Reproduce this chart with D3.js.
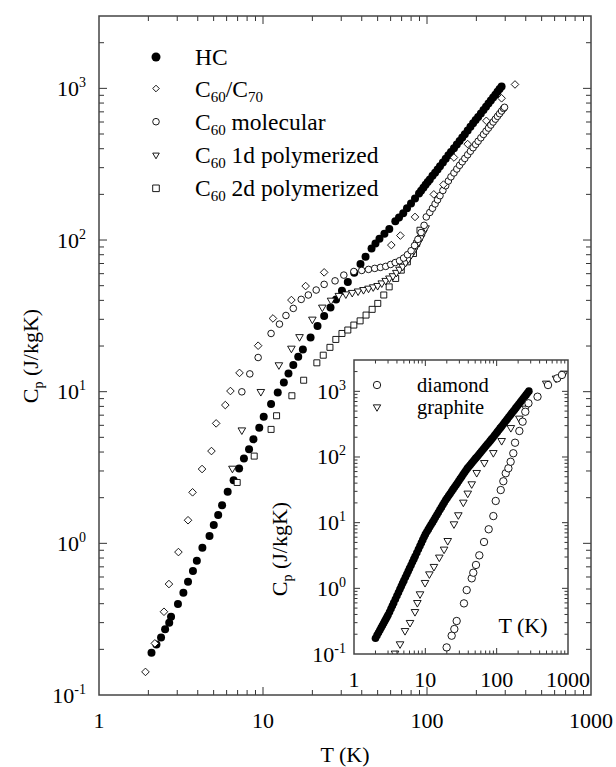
<!DOCTYPE html>
<html>
<head>
<meta charset="utf-8">
<script src="https://cdn.jsdelivr.net/npm/d3@7"></script>
<style>
body { margin: 0; background: #fff; }
svg { display: block; }
text { font-family: "Liberation Serif", "Times New Roman", serif; fill: #000; }
</style>
</head>
<body>
<div id="chart"></div>
<script>
// main panel series: temperature (K) and specific heat (J/kgK)
const hcT = [2.09, 2.24, 2.39, 2.53, 2.68, 2.75, 3.03, 3.27, 3.49, 3.74, 3.95, 4.27, 4.72, 5.01, 5.33, 5.63, 6.09, 6.62, 7.15, 7.65, 8.22, 8.74, 9.49, 10.1, 11.2, 12.3, 13.4, 14.3, 15.3, 16.4, 17.5, 19.5, 21.5, 23.6, 25.8, 27.9, 30.3, 32.9, 36.0, 39.3, 42.2, 45.9, 48.5, 51.3, 55.0, 58.9, 64.1, 67.5, 71.6, 75.5, 79.9, 84.5, 89.4, 92, 95, 98, 101, 104, 108, 112, 116, 120, 125, 130, 135, 140, 146, 152, 158, 164, 170, 177, 184, 191, 198, 205, 213, 221, 229, 237, 245, 253, 261, 269, 277, 285];
const hcC = [0.19, 0.215, 0.239, 0.271, 0.30, 0.328, 0.398, 0.472, 0.558, 0.657, 0.768, 0.935, 1.12, 1.32, 1.54, 1.78, 2.19, 2.61, 3.12, 3.63, 4.17, 4.85, 5.78, 6.83, 8.29, 9.89, 11.5, 13.2, 15.0, 17.0, 19.0, 22.8, 27.1, 31.5, 35.9, 40.6, 46.3, 52.8, 60.8, 69.4, 77.5, 88.0, 95, 102, 110, 118, 133, 141, 150, 162, 174, 188, 203, 211, 221, 231, 241, 251, 265, 278, 292, 307, 325, 343, 362, 380, 403, 427, 450, 474, 499, 528, 558, 588, 618, 648, 684, 720, 757, 794, 832, 871, 909, 949, 989, 1030];

const mixT = [1.92, 2.19, 2.49, 2.67, 3.05, 3.49, 3.72, 4.25, 4.85, 5.18, 5.89, 6.33, 7.19, 9.34, 11.5, 14.9, 18.2, 23.6, 60.6, 68.8, 84.5, 110, 126, 146, 177, 230, 285, 344];
const mixC = [0.142, 0.219, 0.354, 0.539, 0.876, 1.42, 2.17, 3.09, 4.06, 6.18, 8.16, 10.1, 13.3, 20.1, 30.4, 40.2, 49.7, 61.2, 92.6, 107, 142, 200, 232, 350, 429, 611, 860, 1061];

const molT = [7.43, 8.31, 9.34, 11.2, 12.6, 13.8, 15.3, 17.1, 18.9, 21.1, 23.6, 27.5, 31.1, 35.8, 40, 44, 48, 52, 56, 60, 64, 68, 72, 76, 80, 84, 88, 92, 96, 99, 104, 108, 112, 116, 120, 125, 130, 135, 140, 146, 152, 158, 164, 170, 177, 184, 191, 198, 205, 213, 221, 229, 237, 245, 253, 261, 269, 277, 285, 293, 297];
const molC = [9.98, 13.1, 16.8, 24.2, 27.9, 31.8, 35.4, 40.6, 43.4, 46.8, 51.0, 53.8, 58.7, 62, 63, 64, 65, 66, 67, 69, 71, 73, 76, 80, 85, 92, 101, 112, 125, 142, 152, 162, 173, 184, 196, 212, 228, 245, 261, 277, 294, 311, 328, 345, 365, 385, 406, 427, 448, 472, 497, 522, 547, 573, 600, 627, 654, 681, 709, 737, 750];

const p1dT = [6.51, 7.43, 9.7, 12.5, 14.9, 16.7, 20, 23, 26, 29, 32, 35, 38, 41, 44, 47, 50, 53, 56, 59, 62, 65, 68, 71, 74, 77, 80, 83, 86, 89, 92, 95, 98];
const p1dC = [3.12, 5.58, 10.0, 15.0, 19.3, 23.0, 30, 36, 40, 43, 44, 45, 46, 47, 48, 49, 50, 52, 54, 56, 58, 61, 64, 67, 71, 75, 80, 85, 91, 97, 104, 112, 120];

const p2dT = [6.96, 8.84, 11.2, 12.1, 15.0, 17.7, 21.3, 23.3, 25.6, 27.8, 30.3, 32.9, 35.8, 39.1, 42.5, 46.3, 50.1, 54.5, 58.8, 64.4, 69.7, 75.9, 82.7, 86.5, 90.6];
const p2dC = [2.52, 3.76, 5.64, 6.94, 9.4, 11.9, 15.5, 17.4, 19.6, 22.1, 24.2, 25.5, 27.5, 29.3, 32.0, 34.9, 38.2, 43.4, 49.1, 55.8, 63.3, 71.8, 81.5, 95, 116];

// inset series (the HC run is drawn as a dense band there)
const hcInsetT = [2.0, 2.1, 2.2, 2.3, 2.4, 2.5, 2.6, 2.7, 2.8, 2.9, 3.0, 3.15, 3.3, 3.45, 3.6, 3.8, 4.0, 4.2, 4.4, 4.6, 4.8, 5.0, 5.25, 5.5, 5.75, 6.0, 6.3, 6.6, 6.9, 7.2, 7.6, 8.0, 8.4, 8.8, 9.2, 9.6, 10, 10.5, 11, 11.5, 12, 12.6, 13.2, 13.8, 14.5, 15.2, 16, 16.8, 17.6, 18.4, 19.3, 20.2, 21.2, 22.2, 23.3, 24.4, 25.6, 26.8, 28, 29.4, 30.8, 32.3, 33.8, 35.4, 37, 38.8, 40.6, 42.5, 44.5, 46.6, 48.8, 51, 53.5, 56, 58.6, 61.4, 64.3, 67.3, 70.5, 73.8, 77.3, 81, 84.8, 88.8, 93, 97.4, 102, 107, 112, 117, 123, 129, 135, 141, 148, 155, 162, 170, 178, 186, 195, 204, 214, 224, 235, 246, 258, 270, 283];
const hcInsetC = [0.174, 0.192, 0.211, 0.230, 0.251, 0.272, 0.294, 0.317, 0.341, 0.366, 0.392, 0.437, 0.488, 0.542, 0.600, 0.682, 0.771, 0.866, 0.967, 1.075, 1.19, 1.31, 1.47, 1.64, 1.82, 2.01, 2.25, 2.51, 2.78, 3.08, 3.49, 3.93, 4.41, 4.92, 5.46, 6.03, 6.63, 7.25, 7.89, 8.56, 9.26, 10.1, 11.0, 11.95, 13.1, 14.3, 15.7, 17.1, 18.7, 20.2, 22.1, 23.8, 25.7, 27.6, 29.8, 32.1, 34.6, 37.2, 39.9, 43.2, 46.5, 50.1, 53.9, 58.0, 62.2, 67.1, 71.2, 75.6, 80.3, 85.3, 90.6, 96.0, 102, 108, 115, 122, 130, 138, 147, 156, 165, 176, 187, 198, 212, 226, 241, 258, 275, 292, 313, 335, 357, 379, 406, 433, 461, 493, 525, 559, 597, 636, 680, 725, 775, 827, 883, 942, 1006];

const diaT = [19.9, 23.4, 25.5, 27.5, 34.8, 38.0, 44.7, 47.0, 51.3, 57.1, 66.5, 77.3, 89.8, 97, 114, 124, 134, 146, 157, 171, 181, 208, 231, 252, 279, 374, 525, 706, 822];
const diaC = [0.126, 0.19, 0.24, 0.318, 0.59, 0.94, 1.42, 1.73, 2.27, 3.18, 5.08, 7.93, 12.6, 21.4, 31.4, 42.7, 56.5, 67.3, 84.7, 114, 165, 249, 345, 489, 658, 828, 1247, 1578, 1775];

const graT = [3.76, 4.42, 5.19, 6.1, 7.16, 7.73, 8.42, 9.9, 11.4, 13.2, 15.7, 18.3, 20.6, 25.2, 29.0, 34.1, 39.3, 44.7, 52.5, 67.1, 89.8, 117.5, 158, 208, 256, 495, 679, 877];
const graC = [0.1025, 0.142, 0.226, 0.30, 0.44, 0.604, 0.82, 1.22, 1.65, 2.14, 2.97, 3.93, 5.31, 9.54, 13.1, 20.4, 28.0, 38.8, 57.7, 81.8, 116, 177, 279, 388, 551, 1324, 1578, 1880];

const xMajor = [1, 10, 100, 1000];
const yMajor = [0.1, 1, 10, 100, 1000];
const mainLegend = [
  { sym: "fill", base: "HC", sub: "", rest: "" },
  { sym: "diamond", base: "C", sub: "60", rest: "/C", sub2: "70" },
  { sym: "circle", base: "C", sub: "60", rest: " molecular" },
  { sym: "tri", base: "C", sub: "60", rest: " 1d polymerized" },
  { sym: "square", base: "C", sub: "60", rest: " 2d polymerized" }
];
const insetLegend = [
  { sym: "circle", label: "diamond" },
  { sym: "tri", label: "graphite" }
];

const svg = d3.select("#chart").append("svg")
  .attr("width", 616)
  .attr("height", 767);

function zip(a, b) { return a.map((t, i) => [t, b[i]]); }

// draw one marker of a given type at (0,0)
function addMarker(sel, type, r) {
  if (type === "fill") {
    sel.append("circle").attr("r", r).attr("fill", "#000");
  } else if (type === "circle") {
    sel.append("circle").attr("r", r).attr("fill", "#fff").attr("stroke", "#000").attr("stroke-width", 0.9);
  } else {
    let d;
    if (type === "diamond") d = `M0,${-r}L${r},0L0,${r}L${-r},0Z`;
    if (type === "tri") d = `M${-r},${-0.58 * r}L${r},${-0.58 * r}L0,${1.15 * r}Z`;
    if (type === "square") d = `M${-r},${-r}H${r}V${r}H${-r}Z`;
    sel.append("path").attr("d", d).attr("fill", "#fff").attr("stroke", "#000").attr("stroke-width", 0.9);
  }
}

function plotSeries(g, x, y, data, type, r) {
  g.append("g").selectAll("g")
    .data(data)
    .enter()
    .append("g")
    .attr("transform", d => `translate(${x(d[0])},${y(d[1])})`)
    .each(function () { addMarker(d3.select(this), type, r); });
}

function minorTicks(lo, hi) {
  const out = [];
  for (let p = Math.floor(Math.log10(lo)); p <= Math.ceil(Math.log10(hi)); p++) {
    for (let m = 2; m <= 9; m++) {
      const v = m * Math.pow(10, p);
      if (v > lo && v < hi) out.push(v);
    }
  }
  return out;
}

// frame with inward ticks on all four sides
function drawFrame(g, x, y, majorLen, minorLen) {
  const [x0, x1] = x.range();
  const [y0, y1] = y.range();
  const xd = x.domain(), yd = y.domain();
  const xMin = minorTicks(xd[0], xd[1]);
  const yMin = minorTicks(yd[0], yd[1]);
  const xMaj = xMajor.filter(v => v > xd[0] && v < xd[1]);
  const yMaj = yMajor.filter(v => v > yd[0] && v < yd[1]);
  const ticks = g.append("g").attr("stroke", "#333").attr("stroke-width", 1);
  [[xMaj, majorLen], [xMin, minorLen]].forEach(([vals, len]) => {
    vals.forEach(v => {
      ticks.append("line").attr("x1", x(v)).attr("x2", x(v)).attr("y1", y0).attr("y2", y0 - len);
      ticks.append("line").attr("x1", x(v)).attr("x2", x(v)).attr("y1", y1).attr("y2", y1 + len);
    });
  });
  [[yMaj, majorLen], [yMin, minorLen]].forEach(([vals, len]) => {
    vals.forEach(v => {
      ticks.append("line").attr("y1", y(v)).attr("y2", y(v)).attr("x1", x0).attr("x2", x0 + len);
      ticks.append("line").attr("y1", y(v)).attr("y2", y(v)).attr("x1", x1).attr("x2", x1 - len);
    });
  });
  g.append("rect")
    .attr("x", x0).attr("y", y1)
    .attr("width", x1 - x0).attr("height", y0 - y1)
    .attr("fill", "none").attr("stroke", "#444").attr("stroke-width", 1.5);
}

function drawLabels(g, x, y, xLabelY, yLabelX) {
  g.append("g").selectAll("text")
    .data(xMajor)
    .enter().append("text")
    .attr("x", d => x(d)).attr("y", xLabelY)
    .attr("text-anchor", "middle")
    .attr("font-size", 22)
    .text(d => d);
  const yl = g.append("g").selectAll("text")
    .data(yMajor)
    .enter().append("text")
    .attr("x", yLabelX).attr("y", d => y(d) + 7.5)
    .attr("text-anchor", "end")
    .attr("font-size", 22);
  yl.append("tspan").text("10");
  yl.append("tspan").attr("font-size", 14).attr("dy", -9).text(d => String(Math.round(Math.log10(d))));
}

function cpTitle(g, cx, cy) {
  const t = g.append("text")
    .attr("transform", `translate(${cx},${cy}) rotate(-90)`)
    .attr("text-anchor", "middle")
    .attr("font-size", 22);
  t.append("tspan").text("C");
  t.append("tspan").attr("font-size", 14).attr("dy", 5).text("p");
  t.append("tspan").attr("dy", -5).text(" (J/kgK)");
}

// ---------- main panel ----------
const x = d3.scaleLog().domain([1, 1000]).range([99, 591]);
const y = d3.scaleLog().domain([0.1, 3000]).range([695, 16]);
const main = svg.append("g");

plotSeries(main, x, y, zip(hcT, hcC), "fill", 4);
plotSeries(main, x, y, zip(p2dT, p2dC), "square", 3);
plotSeries(main, x, y, zip(p1dT, p1dC), "tri", 3.8);
plotSeries(main, x, y, zip(molT, molC), "circle", 3.3);
plotSeries(main, x, y, zip(mixT, mixC), "diamond", 3.8);
drawFrame(main, x, y, 8, 5);
drawLabels(main, x, y, 728, 86);
cpTitle(main, 38, 356);
main.append("text")
  .attr("x", 345).attr("y", 762)
  .attr("text-anchor", "middle")
  .attr("font-size", 22)
  .text("T (K)");

// main legend
const leg = main.append("g");
mainLegend.forEach((d, i) => {
  const ly = [57, 88.5, 121.7, 155, 188.3][i];
  const m = leg.append("g").attr("transform", `translate(156,${ly})`);
  addMarker(m, d.sym, d.sym === "fill" ? 4.5 : 3.3);
  const t = leg.append("text").attr("x", 195).attr("y", ly + 8).attr("font-size", 23.5);
  t.append("tspan").text(d.base);
  if (d.sub) {
    t.append("tspan").attr("font-size", 15).attr("dy", 5).text(d.sub);
    t.append("tspan").attr("dy", -5).text(d.rest);
    if (d.sub2) t.append("tspan").attr("font-size", 15).attr("dy", 5).text(d.sub2);
  }
});

// ---------- inset ----------
const xi = d3.scaleLog().domain([1, 1000]).range([354, 568]);
const yi = d3.scaleLog().domain([0.1, 3000]).range([654, 360]);
const inset = svg.append("g");
inset.append("rect").attr("x", 354).attr("y", 360).attr("width", 214).attr("height", 294).attr("fill", "#fff");
inset.append("clipPath").attr("id", "ic").append("rect").attr("x", 354).attr("y", 360).attr("width", 214).attr("height", 294);
const ip = inset.append("g").attr("clip-path", "url(#ic)");
plotSeries(ip, xi, yi, zip(hcInsetT, hcInsetC), "fill", 3.8);
plotSeries(ip, xi, yi, zip(graT, graC), "tri", 3.8);
plotSeries(ip, xi, yi, zip(diaT, diaC), "circle", 3.7);
drawFrame(inset, xi, yi, 6, 3.5);
drawLabels(inset, xi, yi, 687, 346);
cpTitle(inset, 287, 549);
inset.append("text")
  .attr("x", 523).attr("y", 633)
  .attr("text-anchor", "middle")
  .attr("font-size", 22)
  .text("T (K)");
insetLegend.forEach((d, i) => {
  const ly = [385, 407][i];
  const m = inset.append("g").attr("transform", `translate(377,${ly})`);
  addMarker(m, d.sym, 3.7);
  inset.append("text").attr("x", 417).attr("y", ly + 7).attr("font-size", 20.5).text(d.label);
});
</script>
</body>
</html>
